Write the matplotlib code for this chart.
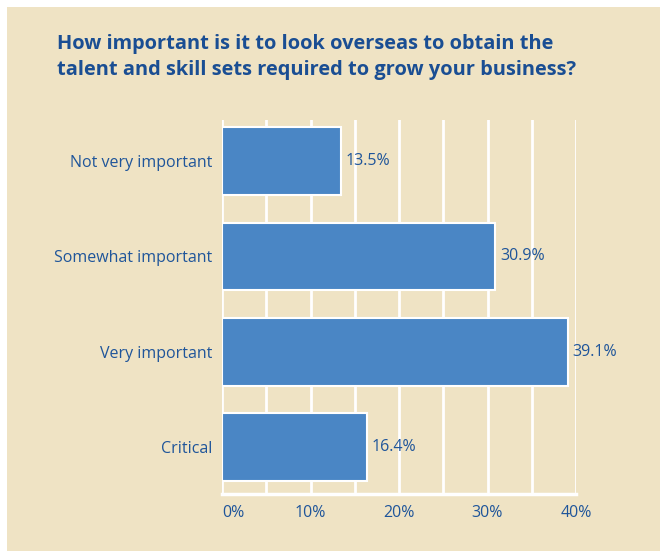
import matplotlib
matplotlib.use("Agg")
import matplotlib.pyplot as plt
from matplotlib.patches import Rectangle

# survey answers, bottom to top as drawn
categories = ["Critical", "Very important", "Somewhat important", "Not very important"]
shares = [16.4, 39.1, 30.9, 13.5]
xticks = [0, 10, 20, 30, 40]
xtick_labels = ["0%", "10%", "20%", "30%", "40%"]
title = ("How important is it to look overseas to obtain the\n"
         "talent and skill sets required to grow your business?")

BG = "#EFE3C4"
BAR = "#4A86C5"
TXT = "#1F559A"
TITLE = "#1A4E93"

plt.rcParams["font.family"] = ["Open Sans", "DejaVu Sans"]

W, H = 660, 551
fig = plt.figure(figsize=(W / 100, H / 100), dpi=100, facecolor=BG)
# thin white strip along the top and left edges
fig.patches.append(Rectangle((0, 0), 7 / W, 1, transform=fig.transFigure,
                             facecolor="white", edgecolor="none", zorder=-5))
fig.patches.append(Rectangle((0, 1 - 7 / H), 1, 7 / H, transform=fig.transFigure,
                             facecolor="white", edgecolor="none", zorder=-5))

left, right = 222 / W, 576 / W
top, bottom = 1 - 120 / H, 1 - 494 / H
ax = fig.add_axes([left, bottom, right - left, top - bottom])
ax.set_facecolor(BG)
ax.patch.set_alpha(0)

ypos = list(range(len(categories)))
ax.barh(ypos, shares, height=0.71, color=BAR, edgecolor="white",
        linewidth=1.5, zorder=3)
for y, v in zip(ypos, shares):
    ax.text(v + 0.5, y, f"{v:.1f}%", ha="left", va="center",
            fontsize=11.5, color=TXT, zorder=4)

ax.set_xlim(0, 40)
ax.set_ylim(-0.49, 3.43)

# white vertical grid every 5%
for g in range(0, 45, 5):
    ax.axvline(g, color="white", linewidth=2, zorder=1)
ax.axhline(-0.49, color="white", linewidth=2.5, zorder=2, clip_on=False)

for s in ax.spines.values():
    s.set_visible(False)

ax.set_xticks(xticks)
ax.set_xticklabels(xtick_labels)
ax.set_yticks(ypos)
ax.set_yticklabels(categories)
ax.tick_params(axis="both", length=0, colors=TXT, labelsize=11.5)
ax.tick_params(axis="x", pad=8)
ax.tick_params(axis="y", pad=7)
ax.get_xticklabels()[0].set_ha("left")

fig.text(57 / W, 1 - 34 / H, title, ha="left", va="top", fontsize=14.4,
         fontweight="bold", color=TITLE, linespacing=1.38)

fig.savefig("out.png", dpi=100, facecolor=fig.get_facecolor())
